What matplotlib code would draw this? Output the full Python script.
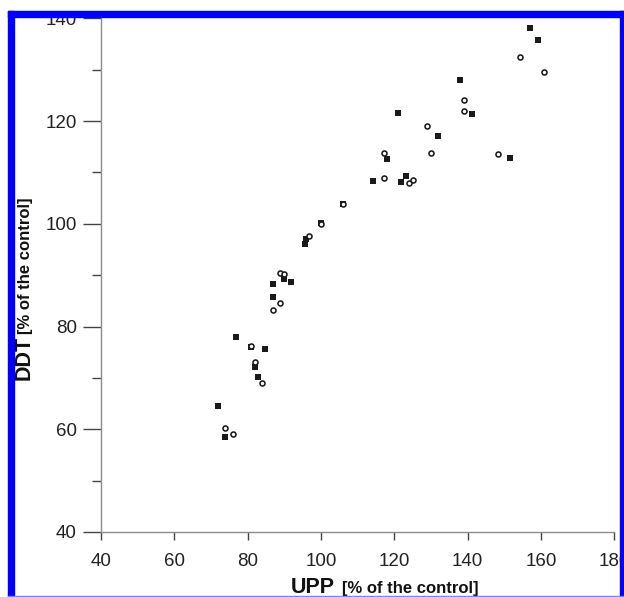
import matplotlib
matplotlib.use("Agg")
import matplotlib.pyplot as plt
from matplotlib.patches import Rectangle
from matplotlib.ticker import MultipleLocator

# UPP vs DDT (% of the control), two series
sq_upp = [156.9, 159.3, 137.8, 141.3, 120.9, 131.9, 117.9, 151.6, 114.2, 123.3,
          121.8, 106.1, 99.9, 95.6, 95.9, 90.0, 91.8, 86.8, 86.8, 76.9,
          80.8, 84.8, 81.9, 82.9, 72.0, 73.9]
sq_ddt = [138.2, 135.8, 127.9, 121.3, 121.5, 117.1, 112.6, 112.8, 108.3, 109.3,
          108.1, 103.9, 100.1, 96.0, 97.0, 89.3, 88.6, 88.2, 85.7, 77.9,
          76.0, 75.7, 72.1, 70.2, 64.6, 58.5]

ci_upp = [154.3, 160.9, 138.9, 139.0, 128.8, 117.1, 130.1, 148.2, 117.3, 123.9,
          125.2, 106.1, 100.0, 96.8, 88.7, 90.0, 88.9, 86.8, 80.8, 81.9,
          83.9, 73.9, 75.9]
ci_ddt = [132.4, 129.6, 124.1, 122.0, 119.0, 113.8, 113.8, 113.5, 109.0, 108.0,
          108.5, 103.9, 100.0, 97.7, 90.4, 90.2, 84.5, 83.2, 76.2, 73.0,
          69.0, 60.3, 59.0]

W, H = 624, 597
fig = plt.figure(figsize=(W / 100, H / 100), dpi=100)
ax = fig.add_axes([101 / W, (H - 532) / H, 513.3 / W, (532 - 18.3) / H])

ax.plot(sq_upp, sq_ddt, 's', color='#1a1a1a', ms=4.6, mew=0, zorder=3)
ax.plot(ci_upp, ci_ddt, 'o', mfc='white', mec='#1a1a1a', ms=3.6, mew=1.15, zorder=4)

ax.set_xlim(40, 180)
ax.set_ylim(40, 140)
ax.xaxis.set_major_locator(MultipleLocator(20))
ax.yaxis.set_major_locator(MultipleLocator(20))
ax.yaxis.set_minor_locator(MultipleLocator(10))

for s in ['top', 'right']:
    ax.spines[s].set_visible(False)
for s in ['left', 'bottom']:
    ax.spines[s].set_color('#8c8c8c')
    ax.spines[s].set_linewidth(1.0)

tick_font = ['Liberation Sans Narrow', 'Liberation Sans']
ax.tick_params(axis='x', which='major', direction='out', length=5.8, width=1.0,
               color='#444444', pad=9, labelsize=13.5)
ax.tick_params(axis='y', which='major', direction='out', length=12.7, width=1.0,
               color='#444444', pad=4.8, labelsize=13.5)
ax.tick_params(axis='y', which='minor', direction='out', length=6.5, width=1.0,
               color='#444444')
for lab in ax.get_xticklabels() + ax.get_yticklabels():
    lab.set_family(tick_font)
    lab.set_color('#222222')

# axis titles, big bold name + smaller bold unit
fig.text(30 / W, (H - 380) / H, 'DDT', rotation=90, rotation_mode='anchor',
         ha='left', va='baseline', fontsize=15.5, fontweight='bold',
         family='Liberation Sans', color='#111111')
fig.text(30 / W, (H - 334) / H, '[% of the control]', rotation=90,
         rotation_mode='anchor', ha='left', va='baseline', fontsize=12,
         fontweight='bold', family='Liberation Sans', color='#111111')
fig.text(290.5 / W, 4 / H, 'UPP', ha='left', va='baseline', fontsize=15.5,
         fontweight='bold', family='Liberation Sans', color='#111111')
fig.text(341.5 / W, 4 / H, '[% of the control]', ha='left', va='baseline',
         fontsize=12, fontweight='bold', family='Liberation Sans', color='#111111')

# blue frame around the picture
blue = '#0000ff'
fig.add_artist(Rectangle((8 / W, 0), 6 / W, (H - 11) / H, color=blue,
                         transform=fig.transFigure, zorder=10))
fig.add_artist(Rectangle((8 / W, (H - 17) / H), (W - 8) / W, 6 / H, color=blue,
                         transform=fig.transFigure, zorder=10))
fig.add_artist(Rectangle((620 / W, 0), 4 / W, (H - 11) / H, color=blue,
                         transform=fig.transFigure, zorder=10))
fig.add_artist(Rectangle((8 / W, 0), (W - 8) / W, 1.2 / H, color='#8080ff',
                         transform=fig.transFigure, zorder=10))

fig.savefig('out.png', dpi=100, facecolor='white')
